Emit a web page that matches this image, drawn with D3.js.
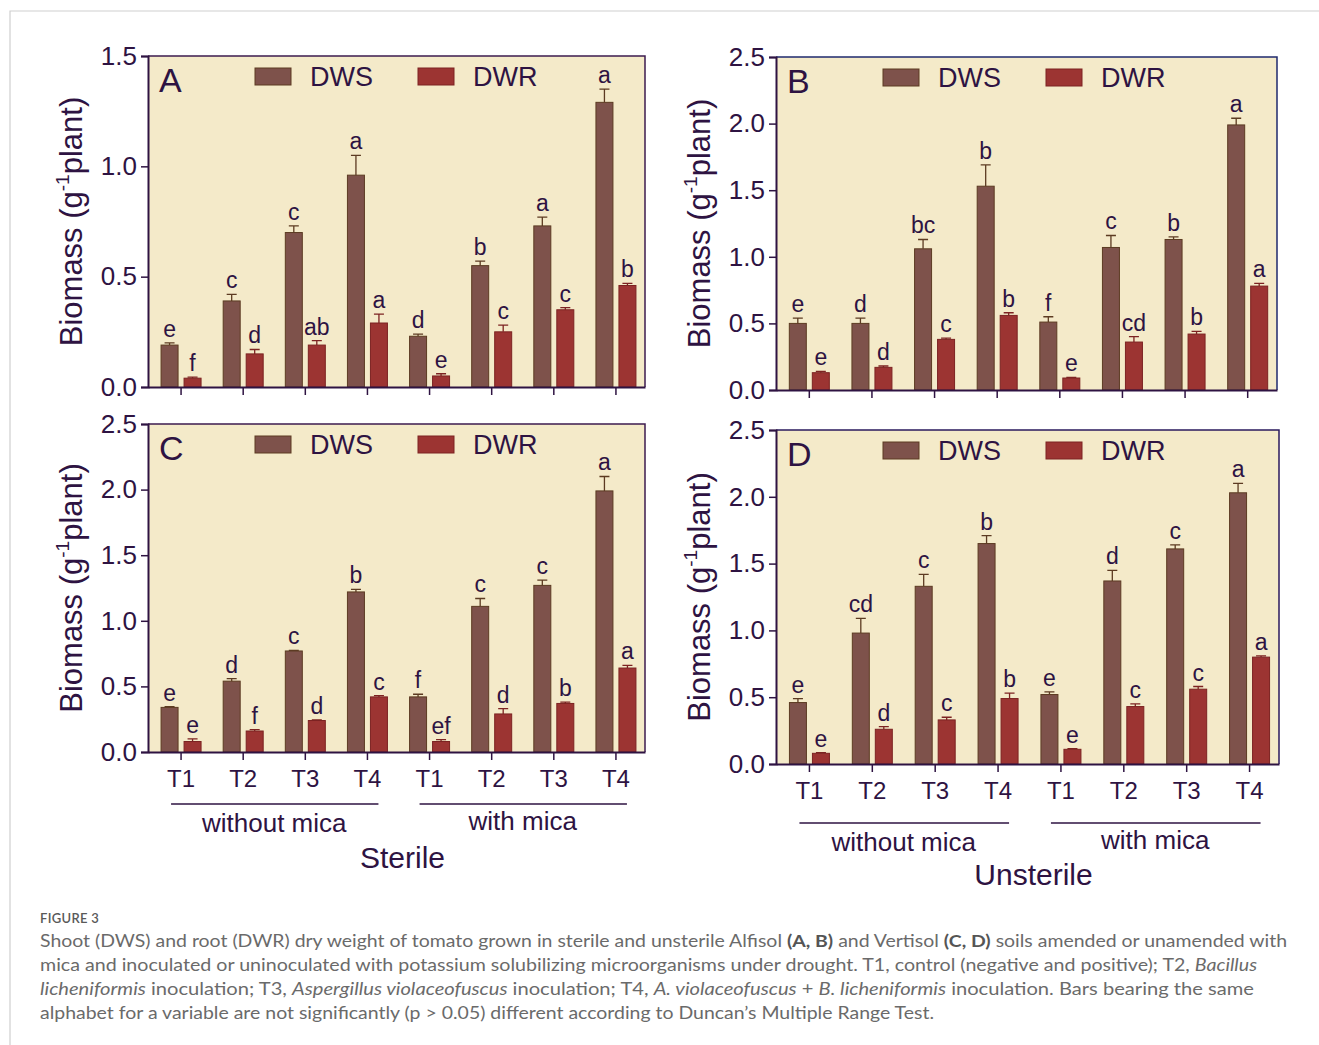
<!DOCTYPE html>
<html>
<head>
<meta charset="utf-8">
<script src="https://cdn.jsdelivr.net/npm/d3@7"></script>
<style>
  body { margin: 0; background: #fff; }
  svg { display: block; }
</style>
</head>
<body>
<div id="chart"></div>
<script>
const width = 1319;
const height = 1045;

const treatments = ["T1", "T2", "T3", "T4", "T1", "T2", "T3", "T4"];
const seriesNames = ["DWS", "DWR"];

// panel A - sterile Alfisol
const dwsA = [0.19, 0.39, 0.70, 0.96, 0.23, 0.55, 0.73, 1.29];
const dwsAErr = [0.01, 0.03, 0.03, 0.09, 0.01, 0.02, 0.04, 0.06];
const dwrA = [0.04, 0.15, 0.19, 0.29, 0.05, 0.25, 0.35, 0.46];
const dwrAErr = [0.005, 0.02, 0.02, 0.04, 0.01, 0.03, 0.01, 0.01];
const dwsALetters = ["e", "c", "c", "a", "d", "b", "a", "a"];
const dwrALetters = ["f", "d", "ab", "a", "e", "c", "c", "b"];

// panel B - unsterile Alfisol
const dwsB = [0.50, 0.50, 1.06, 1.53, 0.51, 1.07, 1.13, 1.99];
const dwsBErr = [0.04, 0.04, 0.07, 0.16, 0.04, 0.09, 0.02, 0.05];
const dwrB = [0.13, 0.17, 0.38, 0.56, 0.09, 0.36, 0.42, 0.78];
const dwrBErr = [0.01, 0.01, 0.01, 0.02, 0.005, 0.04, 0.02, 0.02];
const dwsBLetters = ["e", "d", "bc", "b", "f", "c", "b", "a"];
const dwrBLetters = ["e", "d", "c", "b", "e", "cd", "b", "a"];

// panel C - sterile Vertisol
const dwsC = [0.34, 0.54, 0.77, 1.22, 0.42, 1.11, 1.27, 1.99];
const dwsCErr = [0.005, 0.02, 0.005, 0.02, 0.02, 0.06, 0.04, 0.11];
const dwrC = [0.08, 0.16, 0.24, 0.42, 0.08, 0.29, 0.37, 0.64];
const dwrCErr = [0.02, 0.01, 0.005, 0.01, 0.015, 0.04, 0.01, 0.02];
const dwsCLetters = ["e", "d", "c", "b", "f", "c", "c", "a"];
const dwrCLetters = ["e", "f", "d", "c", "ef", "d", "b", "a"];

// panel D - unsterile Vertisol
const dwsD = [0.46, 0.98, 1.33, 1.65, 0.52, 1.37, 1.61, 2.03];
const dwsDErr = [0.03, 0.11, 0.09, 0.06, 0.02, 0.08, 0.03, 0.07];
const dwrD = [0.08, 0.26, 0.33, 0.49, 0.11, 0.43, 0.56, 0.80];
const dwrDErr = [0.005, 0.02, 0.02, 0.04, 0.005, 0.02, 0.02, 0.01];
const dwsDLetters = ["e", "cd", "c", "b", "e", "d", "c", "a"];
const dwrDLetters = ["e", "d", "c", "b", "e", "c", "c", "a"];

const yTicksA = [0, 0.5, 1.0, 1.5];
const yTicks = [0, 0.5, 1.0, 1.5, 2.0, 2.5];
const groupLabels = ["without mica", "with mica"];

const textColor = "#2e1342";
const bg = "#f4eac9";
const fills = { DWS: "#7e524b", DWR: "#9c3432" };
const strokes = { DWS: "#5c3b22", DWR: "#7c2322" };
const font = "Liberation Sans, Arial, sans-serif";

const svg = d3.select("#chart").append("svg")
    .attr("width", width)
    .attr("height", height)
    .attr("viewBox", [0, 0, width, height]);

// card border
svg.append("path")
    .attr("d", `M10,${height} V11 H${width}`)
    .attr("fill", "none")
    .attr("stroke", "#cfcfcf")
    .attr("stroke-width", 1.2);

function panel(p) {
  const { left, top, right, bottom, yMax, ticks, frame } = p;

  const x = d3.scaleBand()
      .domain(d3.range(treatments.length))
      .range([left, right])
      .padding(0);

  const y = d3.scaleLinear()
      .domain([0, yMax])
      .range([bottom, top]);

  const g = svg.append("g").attr("font-family", font).attr("fill", textColor);

  g.append("rect")
      .attr("x", left).attr("y", top)
      .attr("width", right - left).attr("height", bottom - top)
      .attr("fill", bg);

  const cx = i => x(i) + x.bandwidth() / 2 + 2;
  const barW = 17;
  const offs = { DWS: -20, DWR: 3 };

  seriesNames.forEach(s => {
    const vals = p[s], errs = p[s + "Err"], lets = p[s + "Letters"];
    const bars = g.append("g");
    bars.selectAll("rect")
      .data(vals)
      .join("rect")
        .attr("x", (d, i) => cx(i) + offs[s])
        .attr("y", d => y(d))
        .attr("width", barW)
        .attr("height", d => y(0) - y(d))
        .attr("fill", fills[s])
        .attr("stroke", strokes[s])
        .attr("stroke-width", 1);

    bars.selectAll("path")
      .data(vals)
      .join("path")
        .attr("d", (d, i) => {
          const mx = cx(i) + offs[s] + barW / 2;
          const yt = y(d + errs[i]);
          return `M${mx},${y(d)}V${yt}M${mx - 5},${yt}H${mx + 5}`;
        })
        .attr("fill", "none")
        .attr("stroke", strokes[s])
        .attr("stroke-width", 1.3);

    bars.selectAll("text")
      .data(vals)
      .join("text")
        .attr("x", (d, i) => cx(i) + offs[s] + barW / 2)
        .attr("y", (d, i) => y(d + errs[i]) - 6)
        .attr("text-anchor", "middle")
        .attr("font-size", 23)
        .text((d, i) => lets[i]);
  });

  // frame
  g.append("path")
      .attr("d", `M${left},${top}H${right}V${bottom}`)
      .attr("fill", "none")
      .attr("stroke", frame)
      .attr("stroke-width", 1.5);

  // y axis
  const ya = g.append("g")
      .attr("transform", `translate(${left},0)`)
      .call(d3.axisLeft(y).tickValues(ticks).tickFormat(d3.format(".1f")).tickSize(7).tickPadding(4));
  ya.select(".domain").attr("stroke", textColor).attr("stroke-width", 2);
  ya.selectAll(".tick line").attr("stroke", textColor).attr("stroke-width", 1.5);
  ya.selectAll(".tick text").attr("fill", textColor).attr("font-size", 26).attr("font-family", font);

  // x axis
  const xa = g.append("g")
      .attr("transform", `translate(0,${bottom})`)
      .call(d3.axisBottom(x).tickSize(8).tickSizeOuter(0).tickPadding(p.showX ? 10 : 0)
        .tickFormat(i => p.showX ? treatments[i] : ""));
  xa.select(".domain").attr("stroke", textColor).attr("stroke-width", 2);
  xa.selectAll(".tick").attr("transform", i => `translate(${cx(i)},0)`);
  xa.selectAll(".tick line").attr("stroke", textColor).attr("stroke-width", 1.5);
  xa.selectAll(".tick text").attr("fill", textColor).attr("font-size", 24).attr("font-family", font);

  // y label
  const yl = g.append("text")
      .attr("transform", `translate(${left - 66},${(top + bottom) / 2}) rotate(-90)`)
      .attr("text-anchor", "middle")
      .attr("font-size", 31);
  yl.append("tspan").text("Biomass (g");
  yl.append("tspan").attr("font-size", 19).attr("dy", -13).text("-1");
  yl.append("tspan").attr("dy", 13).text("plant)");

  // panel letter
  g.append("text")
      .attr("x", left + 11).attr("y", top + 36)
      .attr("font-size", 34)
      .text(p.letter);

  // legend
  const legX = [left + 107, left + 270];
  seriesNames.forEach((s, k) => {
    g.append("rect")
        .attr("x", legX[k]).attr("y", top + 12)
        .attr("width", 36).attr("height", 17)
        .attr("fill", fills[s])
        .attr("stroke", strokes[s]);
    g.append("text")
        .attr("x", legX[k] + 55).attr("y", top + 30)
        .attr("font-size", 27)
        .text(s);
  });

  // group labels
  if (p.showX) {
    [[0, 3], [4, 7]].forEach(([a, b], k) => {
      g.append("line")
          .attr("x1", cx(a) - 10).attr("x2", cx(b) + 11)
          .attr("y1", bottom + p.lineDy).attr("y2", bottom + p.lineDy)
          .attr("stroke", textColor).attr("stroke-width", 1.5);
      g.append("text")
          .attr("x", (cx(a) + cx(b)) / 2)
          .attr("y", bottom + p.lineDy + 28 - k * 2)
          .attr("text-anchor", "middle")
          .attr("font-size", 26)
          .text(groupLabels[k]);
    });
    g.append("text")
        .attr("x", (left + right) / 2 + 6)
        .attr("y", bottom + p.titleDy)
        .attr("text-anchor", "middle")
        .attr("font-size", 30)
        .text(p.title);
  }
}

panel({ left: 148, top: 56, right: 645, bottom: 387, yMax: 1.5, ticks: yTicksA, frame: "#3d1b4f",
  DWS: dwsA, DWSErr: dwsAErr, DWSLetters: dwsALetters, DWR: dwrA, DWRErr: dwrAErr, DWRLetters: dwrALetters,
  letter: "A", showX: false });
panel({ left: 776, top: 57, right: 1277, bottom: 390, yMax: 2.5, ticks: yTicks, frame: "#1f2a6e",
  DWS: dwsB, DWSErr: dwsBErr, DWSLetters: dwsBLetters, DWR: dwrB, DWRErr: dwrBErr, DWRLetters: dwrBLetters,
  letter: "B", showX: false });
panel({ left: 148, top: 424, right: 645, bottom: 752, yMax: 2.5, ticks: yTicks, frame: "#3d1b4f",
  DWS: dwsC, DWSErr: dwsCErr, DWSLetters: dwsCLetters, DWR: dwrC, DWRErr: dwrCErr, DWRLetters: dwrCLetters,
  letter: "C", showX: true, lineDy: 52, titleDy: 116, title: "Sterile" });
panel({ left: 776, top: 430, right: 1279, bottom: 764, yMax: 2.5, ticks: yTicks, frame: "#2a1a5e",
  DWS: dwsD, DWSErr: dwsDErr, DWSLetters: dwsDLetters, DWR: dwrD, DWRErr: dwrDErr, DWRLetters: dwrDLetters,
  letter: "D", showX: true, lineDy: 59, titleDy: 121, title: "Unsterile" });

// caption
const cap = svg.append("g").attr("font-family", "Lato, 'Open Sans', sans-serif").attr("fill", "#6a6a6a");
cap.append("text")
    .attr("x", 40).attr("y", 923)
    .attr("font-size", 13).attr("font-weight", 600).attr("letter-spacing", 0.3)
    .attr("fill", "#595959")
    .text("FIGURE 3");

const captionLines = [
  { w: 1247, parts: [["Shoot (DWS) and root (DWR) dry weight of tomato grown in sterile and unsterile Alfisol "], ["(A, B)", "b"], [" and Vertisol "], ["(C, D)", "b"], [" soils amended or unamended with"]] },
  { w: 1217, parts: [["mica and inoculated or uninoculated with potassium solubilizing microorganisms under drought. T1, control (negative and positive); T2, "], ["Bacillus", "i"]] },
  { w: 1214, parts: [["licheniformis", "i"], [" inoculation; T3, "], ["Aspergillus violaceofuscus", "i"], [" inoculation; T4, "], ["A. violaceofuscus", "i"], [" + "], ["B. licheniformis", "i"], [" inoculation. Bars bearing the same"]] },
  { w: 894, parts: [["alphabet for a variable are not significantly (p > 0.05) different according to Duncan\u2019s Multiple Range Test."]] }
];

captionLines.forEach((line, k) => {
  const t = cap.append("text")
      .attr("x", 40).attr("y", 947 + k * 24)
      .attr("font-size", 17)
      .attr("textLength", line.w)
      .attr("lengthAdjust", "spacingAndGlyphs");
  line.parts.forEach(([s, st]) => {
    const ts = t.append("tspan").text(s);
    if (st === "b") ts.attr("font-weight", 700).attr("fill", "#555");
    if (st === "i") ts.attr("font-style", "italic");
  });
});
</script>
</body>
</html>
